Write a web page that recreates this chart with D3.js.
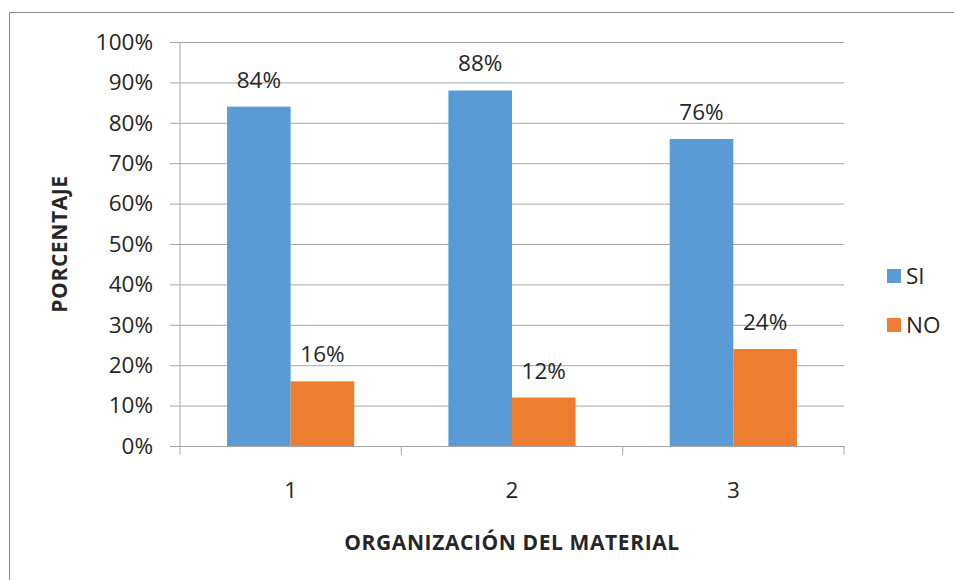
<!DOCTYPE html>
<html>
<head>
<meta charset="utf-8">
<script src="https://cdn.jsdelivr.net/npm/d3@7"></script>
<style>
  body { margin: 0; background: #fff; }
  text { font-family: "Open Sans", sans-serif; fill: #262626; }
</style>
</head>
<body>
<svg width="954" height="580"></svg>
<script>
const categories = ['1', '2', '3'];
const seriesNames = ['SI', 'NO'];
const siValues = [0.84, 0.88, 0.76];
const noValues = [0.16, 0.12, 0.24];
const yTicks = [0, 0.1, 0.2, 0.3, 0.4, 0.5, 0.6, 0.7, 0.8, 0.9, 1];
const colors = ['#5b9bd5', '#ed7d31'];

const svg = d3.select('svg');
const width = +svg.attr('width');
const height = +svg.attr('height');

// chart frame (runs off the right and bottom edges like the source)
svg.append('path')
    .attr('d', `M9.5,${height} V12.5 H${width}`)
    .attr('fill', 'none')
    .attr('stroke', '#888');

const margin = { top: 42, left: 180, right: 110, bottom: 134 };
const innerWidth = width - margin.left - margin.right;
const innerHeight = height - margin.top - margin.bottom;

const g = svg.append('g')
    .attr('transform', `translate(${margin.left}, ${margin.top})`);

const xScale = d3.scaleBand()
    .domain(categories)
    .range([0, innerWidth]);

const xInner = d3.scaleBand()
    .domain(seriesNames)
    .range([0, xScale.bandwidth()])
    .paddingOuter(0.74)
    .paddingInner(0);

const yScale = d3.scaleLinear()
    .domain([0, 1])
    .range([innerHeight, 0]);

// gridlines + y axis
const yAxisG = g.append('g')
    .call(d3.axisLeft(yScale)
        .tickValues(yTicks)
        .tickFormat(d3.format('.0%'))
        .tickSize(-(innerWidth + 10))
        .tickPadding(17))
    .attr('transform', 'translate(-10, 0)');

yAxisG.select('.domain').remove();
yAxisG.selectAll('.tick line').attr('stroke', '#a6a6a6').attr('stroke-width', 1);
yAxisG.selectAll('.tick text')
    .attr('font-size', 22.5)
    .attr('font-family', '"Open Sans", sans-serif')
    .attr('fill', '#262626');

// vertical axis line
g.append('line')
    .attr('x1', 0).attr('x2', 0)
    .attr('y1', 0).attr('y2', innerHeight)
    .attr('stroke', '#a6a6a6');

// x axis
const xAxisG = g.append('g')
    .attr('transform', `translate(0, ${innerHeight})`)
    .call(d3.axisBottom(xScale).tickSize(0).tickPadding(36));

xAxisG.select('.domain').attr('stroke', '#a6a6a6');
xAxisG.selectAll('.tick text')
    .attr('font-size', 22.5)
    .attr('font-family', '"Open Sans", sans-serif')
    .attr('fill', '#262626');

xAxisG.selectAll('.sep').data(d3.range(categories.length + 1))
    .enter().append('line')
    .attr('class', 'sep')
    .attr('x1', i => i * xScale.step())
    .attr('x2', i => i * xScale.step())
    .attr('y1', 0).attr('y2', 9)
    .attr('stroke', '#a6a6a6');

// bars
const series = [siValues, noValues];
const groups = g.selectAll('.cat').data(categories)
    .enter().append('g')
    .attr('class', 'cat')
    .attr('transform', d => `translate(${xScale(d)}, 0)`);

groups.selectAll('rect')
    .data((d, i) => seriesNames.map((s, j) => ({ s, j, v: series[j][i] })))
    .enter().append('rect')
    .attr('x', d => xInner(d.s))
    .attr('y', d => yScale(d.v))
    .attr('width', xInner.bandwidth())
    .attr('height', d => innerHeight - yScale(d.v))
    .attr('fill', d => colors[d.j]);

groups.selectAll('.lbl')
    .data((d, i) => seriesNames.map((s, j) => ({ s, j, v: series[j][i] })))
    .enter().append('text')
    .attr('class', 'lbl')
    .attr('x', d => xInner(d.s) + xInner.bandwidth() / 2)
    .attr('y', d => yScale(d.v) - 19)
    .attr('text-anchor', 'middle')
    .attr('font-size', 22.5)
    .text(d => d3.format('.0%')(d.v));

// axis titles
g.append('text')
    .attr('x', innerWidth / 2)
    .attr('y', innerHeight + 104)
    .attr('text-anchor', 'middle')
    .attr('font-size', 21)
    .attr('letter-spacing', 0.6)
    .attr('font-weight', 'bold')
    .attr('fill', '#000')
    .text('ORGANIZACIÓN DEL MATERIAL');

g.append('text')
    .attr('transform', `translate(${67 - margin.left}, ${innerHeight / 2}) rotate(-90)`)
    .attr('text-anchor', 'middle')
    .attr('font-size', 21)
    .attr('letter-spacing', 0.6)
    .attr('font-weight', 'bold')
    .attr('fill', '#000')
    .text('PORCENTAJE');

// legend
const legend = svg.append('g')
    .attr('transform', 'translate(887, 269)');

const li = legend.selectAll('g').data(seriesNames)
    .enter().append('g')
    .attr('transform', (d, i) => `translate(0, ${i * 49})`);

li.append('rect')
    .attr('width', 14).attr('height', 14)
    .attr('fill', (d, i) => colors[i]);

li.append('text')
    .attr('x', 19)
    .attr('y', 15)
    .attr('font-size', 22.5)
    .text(d => d);
</script>
</body>
</html>
